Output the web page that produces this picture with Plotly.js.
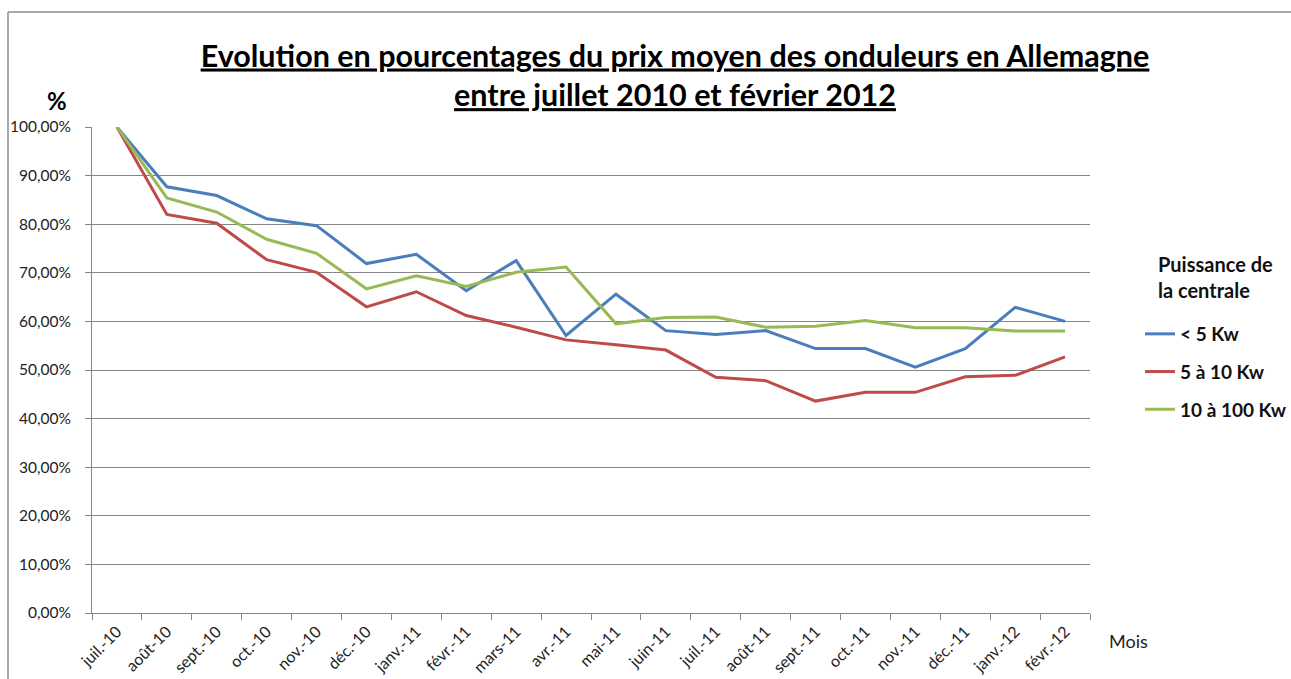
<!DOCTYPE html>
<html><head><meta charset="utf-8">
<script src="https://cdn.plot.ly/plotly-3.0.1.min.js"></script>
<style>html,body{margin:0;padding:0;background:#fff;overflow:hidden}#chart{width:1291px;height:679px}</style>
</head><body><div id="chart"></div>
<script>
const months = ['juil.-10','août-10','sept.-10','oct.-10','nov.-10','déc.-10','janv.-11','févr.-11','mars-11','avr.-11','mai-11','juin-11','juil.-11','août-11','sept.-11','oct.-11','nov.-11','déc.-11','janv.-12','févr.-12'];
const lt5Kw    = [100, 87.7, 85.9, 81.1, 79.7, 71.9, 73.8, 66.3, 72.5, 57.1, 65.6, 58.1, 57.3, 58.1, 54.4, 54.4, 50.6, 54.4, 62.9, 60.0];
const kw5to10  = [100, 82.0, 80.2, 72.7, 70.1, 63.0, 66.1, 61.2, 58.8, 56.2, 55.2, 54.1, 48.5, 47.8, 43.6, 45.4, 45.4, 48.6, 48.9, 52.7];
const kw10to100= [100, 85.4, 82.5, 76.9, 74.0, 66.7, 69.4, 67.2, 70.1, 71.2, 59.5, 60.8, 60.9, 58.8, 59.0, 60.2, 58.7, 58.7, 58.0, 58.0];
const seriesNames = ['&lt; 5 Kw', '5 à 10 Kw', '10 à 100 Kw'];
const seriesColors = ['#4A7EBB', '#BE4B48', '#98B954'];
const yTickVals = [0, 10, 20, 30, 40, 50, 60, 70, 80, 90, 100];

const FONT = 'Lato, "Open Sans", sans-serif';
const W = 1291, H = 679;
const M = {l: 92, r: 201, t: 127, b: 66, autoexpand: false};
const px = x => (x - M.l) / (W - M.l - M.r);
const py = y => (H - M.b - y) / (H - M.t - M.b);

const allSeries = [lt5Kw, kw5to10, kw10to100];
const traces = allSeries.map((vals, i) => ({
  type: 'scatter', mode: 'lines',
  x: months, y: vals.map(v => v / 100),
  name: seriesNames[i], legendgroup: 'g' + i,
  line: {color: seriesColors[i], width: 3}
}));

const layout = {
  width: W, height: H,
  margin: M,
  paper_bgcolor: '#fff', plot_bgcolor: '#fff',
  separators: ', ',
  font: {family: FONT, color: '#222', size: 15},
  title: {
    text: 'Evolution en pourcentages du prix moyen des onduleurs en Allemagne<br>entre juillet 2010 et février 2012',
    font: {family: FONT, size: 30.5, color: '#000', weight: 'bold', lineposition: 'under'},
    x: 675 / W, xanchor: 'center', xref: 'container',
    y: 1 - 66.5 / H, yanchor: 'top', yref: 'container'
  },
  xaxis: {
    type: 'category', range: [-0.5, months.length - 0.5],
    tickson: 'boundaries', ticks: 'outside', ticklen: 6, tickcolor: '#868686',
    showline: true, linecolor: '#868686', linewidth: 1,
    showgrid: false, tickangle: -45, automargin: false, ticklabelstandoff: 2,
    tickfont: {family: FONT, size: 16, color: '#222'}, fixedrange: true
  },
  yaxis: {
    range: [0, 1], tickvals: yTickVals.map(v => v / 100), tickformat: '.2%',
    ticks: 'outside', ticklen: 6, tickcolor: '#868686',
    showline: true, linecolor: '#868686', linewidth: 1,
    showgrid: true, gridcolor: '#868686', gridwidth: 1, zeroline: false,
    automargin: false, ticklabelstandoff: 11,
    tickfont: {family: FONT, size: 15.5, color: '#222'}, fixedrange: true
  },
  showlegend: true,
  legend: {
    x: px(1140), y: py(315), xanchor: 'left', yanchor: 'top',
    font: {family: FONT, size: 19, color: '#111', weight: 'bold'},
    tracegroupgap: 10, bgcolor: 'rgba(0,0,0,0)'
  },
  annotations: [
    {text: 'Puissance de<br>la centrale', xref: 'paper', yref: 'paper', x: px(1156), y: py(250),
     xanchor: 'left', yanchor: 'top', align: 'left', showarrow: false,
     font: {family: FONT, size: 20, color: '#111', weight: 'bold'}},
    {text: '%', xref: 'paper', yref: 'paper', x: px(57), y: py(101), xanchor: 'center', yanchor: 'middle',
     showarrow: false, font: {family: FONT, size: 24, color: '#000', weight: 'bold'}},
    {text: 'Mois', xref: 'paper', yref: 'paper', x: px(1107), y: py(641), xanchor: 'left', yanchor: 'middle',
     showarrow: false, font: {family: FONT, size: 18, color: '#222'}}
  ],
  shapes: [
    {type: 'line', xref: 'paper', yref: 'paper', x0: px(8), x1: px(8), y0: py(12), y1: py(679),
     line: {color: '#8c8c8c', width: 1.5}, layer: 'below'},
    {type: 'line', xref: 'paper', yref: 'paper', x0: px(8), x1: px(1291), y0: py(12), y1: py(12),
     line: {color: '#8c8c8c', width: 1.5}, layer: 'below'}
  ]
};
Plotly.newPlot('chart', traces, layout, {displayModeBar: false, staticPlot: true});
</script>
</body></html>
